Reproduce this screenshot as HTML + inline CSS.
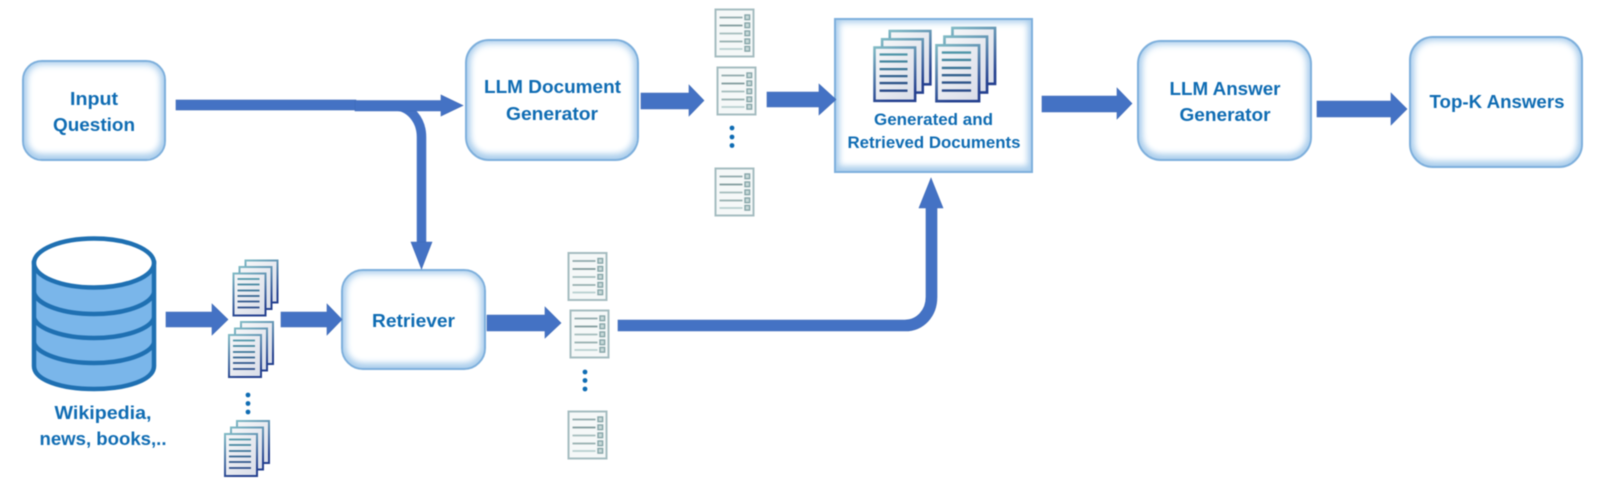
<!DOCTYPE html>
<html>
<head>
<meta charset="utf-8">
<style>
html,body{margin:0;padding:0;background:#fff;}
#c{position:relative;width:1600px;height:501px;overflow:hidden;background:#fff;filter:blur(0.4px);}
.b{position:absolute;box-sizing:border-box;background:#fff;border:2px solid #7dafdc;box-shadow:inset 0 0 8px 2px #a9cdec,inset 0 -3px 7px 1px #b5d4ef;}
svg{position:absolute;left:0;top:0;}
text{font-family:"Liberation Sans",sans-serif;font-weight:bold;fill:#0f6cb3;text-anchor:middle;}
</style>
</head>
<body>
<div id="c">
<div class="b" style="left:22px;top:60px;width:144px;height:101px;border-radius:20px"></div>
<div class="b" style="left:465px;top:39px;width:174px;height:122px;border-radius:24px"></div>
<div class="b" style="left:341px;top:269px;width:145px;height:101px;border-radius:22px"></div>
<div class="b" style="left:834px;top:18px;width:199px;height:155px;border-radius:0"></div>
<div class="b" style="left:1137px;top:40px;width:175px;height:121px;border-radius:24px"></div>
<div class="b" style="left:1409px;top:36px;width:174px;height:132px;border-radius:24px"></div>

<svg width="1600" height="501" viewBox="0 0 1600 501" xmlns="http://www.w3.org/2000/svg">
<defs>
<linearGradient id="e" x1="0" y1="0" x2="0.3" y2="1"><stop offset="0" stop-color="#7fb9c4"/><stop offset="1" stop-color="#24408f"/></linearGradient>
<linearGradient id="f" x1="0" y1="0" x2="1" y2="1"><stop offset="0" stop-color="#f6f7f9"/><stop offset="1" stop-color="#d9dde8"/></linearGradient>
<g id="pg">
<rect x="0" y="0" width="32" height="42" fill="url(#f)" stroke="url(#e)" stroke-width="2"/>
</g>
<g id="stack">
<use href="#pg" x="12" y="0"/>
<use href="#pg" x="6" y="6.5"/>
<use href="#pg" x="0" y="13"/>
<g stroke-width="1.8">
<line x1="4" x2="26" y1="18.5" y2="18.5" stroke="#4e95a8"/>
<line x1="4" x2="26" y1="24" y2="24" stroke="#44869f"/>
<line x1="4" x2="26" y1="30" y2="30" stroke="#3b7597"/>
<line x1="4" x2="26" y1="35.5" y2="35.5" stroke="#34638f"/>
<line x1="4" x2="26" y1="41" y2="41" stroke="#2e558a"/>
<line x1="4" x2="26" y1="47" y2="47" stroke="#294a88"/>
</g>
</g>
<g id="chk">
<rect x="0" y="0" width="38" height="47" fill="#f5f8f8" stroke="#a5bcc0" stroke-width="2"/>
<g stroke-width="1.8">
<line x1="4" x2="27" y1="8" y2="8" stroke="#8fa9ab"/>
<line x1="4" x2="27" y1="16" y2="16" stroke="#7f9a9c"/>
<line x1="4" x2="27" y1="24" y2="24" stroke="#a3bcbc"/>
<line x1="4" x2="27" y1="32" y2="32" stroke="#95afaf"/>
<line x1="4" x2="27" y1="39.5" y2="39.5" stroke="#b7cfcf"/>
</g>
<g fill="#c9dada" stroke="#86a5a8" stroke-width="1.4">
<rect x="29.5" y="5.5" width="4.6" height="4.6"/>
<rect x="29.5" y="13.5" width="4.6" height="4.6"/>
<rect x="29.5" y="21.5" width="4.6" height="4.6"/>
<rect x="29.5" y="29.5" width="4.6" height="4.6"/>
<rect x="29.5" y="37" width="4.6" height="4.6"/>
</g>
</g>
</defs>

<!-- connectors -->
<g fill="#4472c4" stroke="#3f6bb8" stroke-width="0.6">
<path d="M395 106 A26.5 31 0 0 1 421.500 137 L421.500 243" fill="none" stroke="#4472c4" stroke-width="9.5"/>
<rect x="176" y="100" width="180" height="10"/>
<path d="M355 100.500 H441 V95 L463 105.500 L441 116 V111 H355 Z"/>
<path d="M411 242 H432 L421.500 269 Z"/>
<path d="M166 312 H212 V304 L228 319.500 L212 335 V327 H166 Z"/>
<path d="M281 312 H327 V304 L342 319.500 L327 335 V327 H281 Z"/>
<path d="M487 315 H545 V307 L561 323 L545 338 V331 H487 Z"/>
<path d="M641 93 H689 V85 L704 100.500 L689 116 V109 H641 Z"/>
<path d="M767 92 H819 V84 L836 99.500 L819 115 V107 H767 Z"/>
<path d="M1042 96 H1117 V88 L1132 103.500 L1117 119 V112 H1042 Z"/>
<path d="M1317 101 H1391 V93 L1407 109 L1391 125 V117 H1317 Z"/>
<path d="M618 320 H905 C917 320 926 310 926 297 V208 H919 L931 178 L943 208 H937 V297 C937 316 924 331 905 331 H618 Z"/>
</g>

<!-- database -->
<g stroke="#1f70b2" stroke-width="4.5">
<path d="M34 263 V366 C34 380 61 389 94 389 C127 389 154 380 154 366 V263 Z" fill="#7ab6ea"/>
<ellipse cx="94" cy="263" rx="60" ry="24.500" fill="#fff"/>
<path d="M34 293 C38 305 63 314 94 314 C125 314 150 305 154 293" fill="none"/>
<path d="M34 318 C38 329 63 338 94 338 C125 338 150 329 154 318" fill="none"/>
<path d="M34 343 C38 354 63 363 94 363 C125 363 150 354 154 343" fill="none"/>
</g>

<!-- document stacks -->
<use href="#stack" transform="translate(233.500,260.500)"/>
<use href="#stack" transform="translate(229,322)"/>
<use href="#stack" transform="translate(225,421)"/>
<use href="#stack" transform="translate(874.500,31) scale(1.27)"/>
<use href="#stack" transform="translate(936.500,28) scale(1.33)"/>

<!-- checklists -->
<use href="#chk" x="715.500" y="9.500"/>
<use href="#chk" x="717.500" y="67.500"/>
<use href="#chk" x="715.500" y="168.500"/>
<use href="#chk" x="568.500" y="253"/>
<use href="#chk" x="570.500" y="310.500"/>
<use href="#chk" x="568.500" y="411.500"/>

<!-- dots -->
<g fill="#0f6cb3">
<circle cx="248" cy="395" r="2.400"/><circle cx="248" cy="403.500" r="2.400"/><circle cx="248" cy="412" r="2.400"/>
<circle cx="732" cy="128" r="2.400"/><circle cx="732" cy="137" r="2.400"/><circle cx="732" cy="145.500" r="2.400"/>
<circle cx="585" cy="372" r="2.400"/><circle cx="585" cy="380.500" r="2.400"/><circle cx="585" cy="389" r="2.400"/>
</g>

<!-- labels -->
<g font-size="18.500">
<text x="94" y="105" textLength="48" lengthAdjust="spacingAndGlyphs">Input</text>
<text x="94" y="131" textLength="82" lengthAdjust="spacingAndGlyphs">Question</text>
<text x="552.500" y="93" textLength="137" lengthAdjust="spacingAndGlyphs">LLM Document</text>
<text x="552" y="120" textLength="92" lengthAdjust="spacingAndGlyphs">Generator</text>
<text x="413.500" y="327" textLength="83" lengthAdjust="spacingAndGlyphs">Retriever</text>
<text x="1225" y="95" textLength="111" lengthAdjust="spacingAndGlyphs">LLM Answer</text>
<text x="1225" y="121" textLength="91" lengthAdjust="spacingAndGlyphs">Generator</text>
<text x="1497" y="108" textLength="135" lengthAdjust="spacingAndGlyphs">Top-K Answers</text>
<text x="103" y="419" textLength="97" lengthAdjust="spacingAndGlyphs">Wikipedia,</text>
<text x="103" y="445" textLength="127" lengthAdjust="spacingAndGlyphs">news, books,..</text>
</g>
<g font-size="16.500">
<text x="933.500" y="125" textLength="119" lengthAdjust="spacingAndGlyphs">Generated and</text>
<text x="934" y="148" textLength="173" lengthAdjust="spacingAndGlyphs">Retrieved Documents</text>
</g>
</svg>
</div>
</body>
</html>
